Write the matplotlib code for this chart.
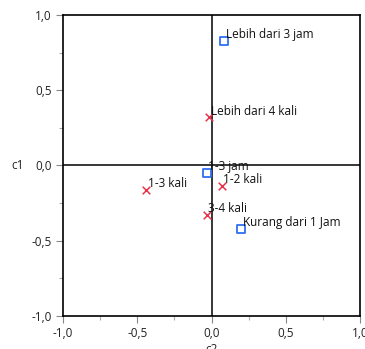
import matplotlib
matplotlib.use("Agg")
import matplotlib.pyplot as plt
from matplotlib.ticker import MultipleLocator, FuncFormatter

plt.rcParams['font.family'] = ['Open Sans', 'DejaVu Sans']

jam_labels = ["Lebih dari 3 jam", "1-3 jam", "Kurang dari 1 Jam"]
jam_c2 = [0.086, -0.03, 0.20]
jam_c1 = [0.83, -0.048, -0.42]

kali_labels = ["Lebih dari 4 kali", "1-3 kali", "1-2 kali", "3-4 kali"]
kali_c2 = [-0.015, -0.44, 0.07, -0.03]
kali_c1 = [0.32, -0.16, -0.134, -0.33]

fig = plt.figure(figsize=(3.65, 3.49), dpi=100)
ax = fig.add_axes([63/365, 1 - 316/349, 297/365, 301/349])
ax.set_xlim(-1, 1)
ax.set_ylim(-1, 1)

ax.axhline(0, color='black', lw=1.1, zorder=1)
ax.axvline(0, color='black', lw=1.1, zorder=1)

ax.scatter(jam_c2, jam_c1, marker='s', s=32, facecolors='none', edgecolors='#2f6ff5', linewidths=1.3, zorder=3)
ax.scatter(kali_c2, kali_c1, marker='x', s=30, color='#e8334a', linewidths=1.1, zorder=3)

for lab, x, y in zip(jam_labels + kali_labels, jam_c2 + kali_c2, jam_c1 + kali_c1):
    ax.annotate(lab, (x, y), xytext=(1, 2), textcoords='offset points', fontsize=8.5, color='#111111', zorder=4)

fmt = FuncFormatter(lambda v, p: f"{v:.1f}".replace('.', ','))
for axis in (ax.xaxis, ax.yaxis):
    axis.set_major_locator(MultipleLocator(0.5))
    axis.set_minor_locator(MultipleLocator(0.25))
    axis.set_major_formatter(fmt)
ax.tick_params(which='major', length=5, width=0.8, color='#888888', labelsize=8.5, labelcolor='#222222', pad=3)
ax.tick_params(which='minor', length=3, width=0.8, color='#aaaaaa')
for s in ax.spines.values():
    s.set_linewidth(1.2)
    s.set_color('black')

ax.set_xlabel('c2', fontsize=8.5, color='#222222', labelpad=2)
ax.set_ylabel('c1', fontsize=8.5, color='#222222', rotation=0, labelpad=10, va='center')

fig.savefig('out.png', dpi=100)
